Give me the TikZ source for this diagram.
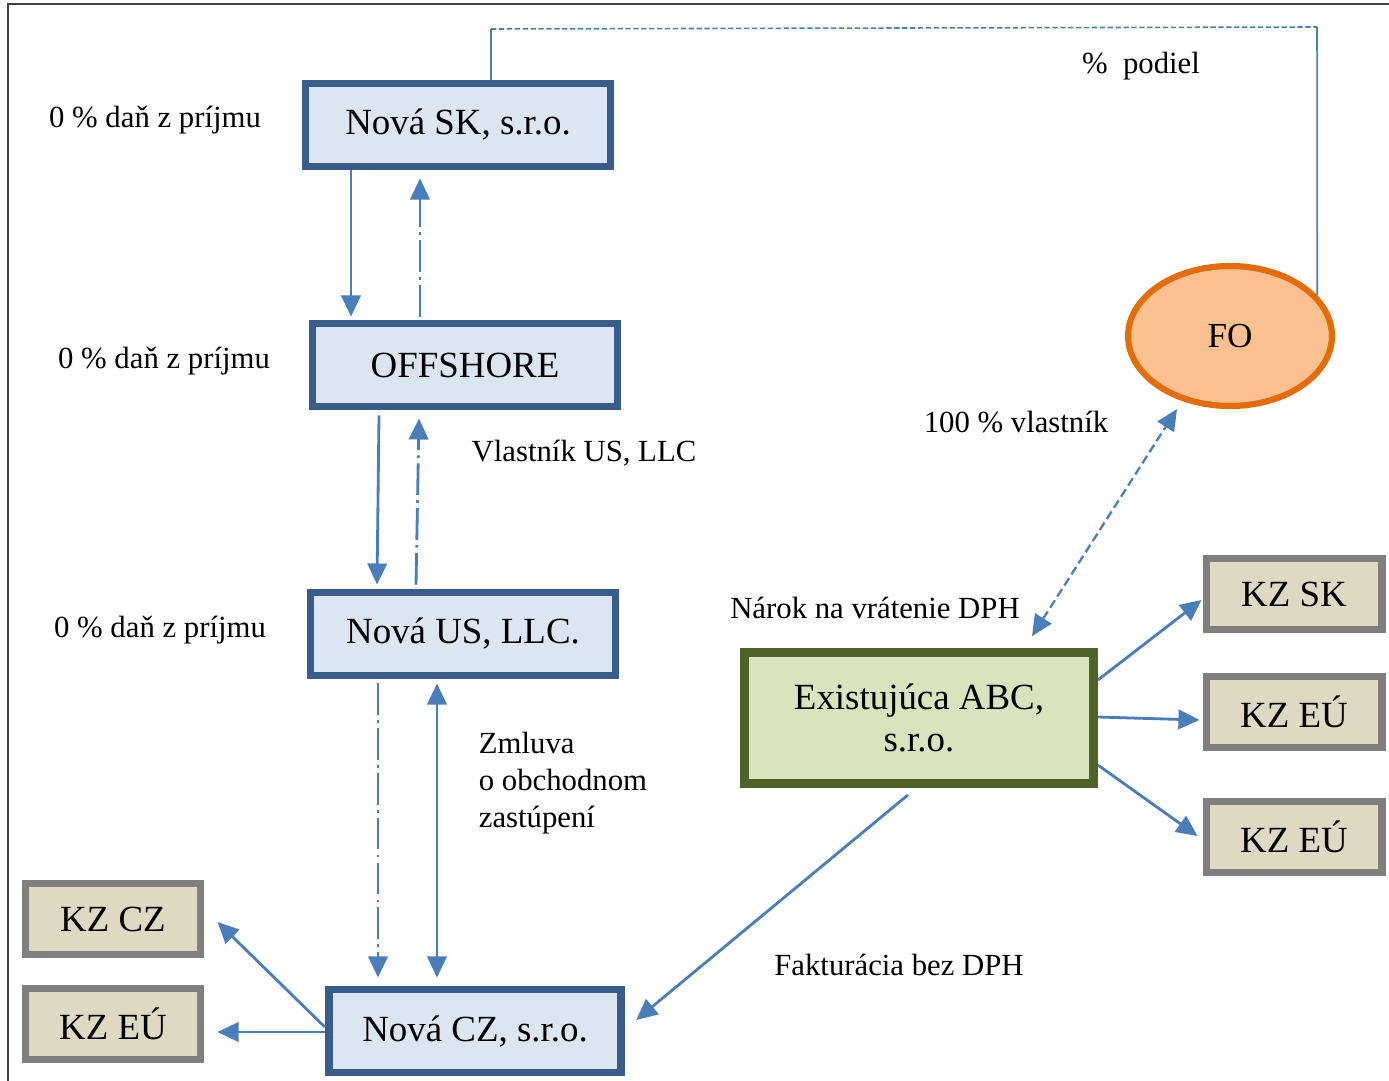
\documentclass[tikz,border=0pt]{standalone}
\usepackage{fontspec}
\setmainfont{Liberation Serif}
\usepackage{tikz}
\usetikzlibrary{arrows.meta}
\usetikzlibrary{calc,shapes.geometric}

\definecolor{entline}{RGB}{56,93,138}
\definecolor{entfill}{RGB}{220,230,242}
\definecolor{abcline}{RGB}{79,98,40}
\definecolor{abcfill}{RGB}{215,228,189}
\definecolor{kzline}{RGB}{127,127,127}
\definecolor{kzfill}{RGB}{221,217,195}
\definecolor{foline}{RGB}{228,108,10}
\definecolor{fofill}{RGB}{250,192,144}
\definecolor{arrowblue}{RGB}{74,126,187}
\definecolor{framegray}{RGB}{64,64,64}

\tikzset{
	ent/.style={draw=entline, fill=entfill, line width=4.5pt, inner sep=0pt,
		minimum width=6.1cm, minimum height=1.66cm, font=\fontsize{21}{24}\selectfont},
	kz/.style={draw=kzline, fill=kzfill, line width=4pt, inner sep=0pt,
		minimum width=3.52cm, minimum height=1.42cm, font=\fontsize{21}{24}\selectfont},
	lbl/.style={font=\fontsize{17.5}{21}\selectfont},
	tip/.tip={Triangle[length=12pt,width=11pt]},
	conn/.style={arrowblue, line width=1.6pt, -tip},
	dashdot/.style={dash pattern=on 18pt off 3pt on 1.5pt off 3pt}
}

\begin{document}
\begin{tikzpicture}[x=0.02cm, y=-0.02cm]
	\useasboundingbox (0,0) rectangle (1389,1081);
	\draw[framegray, line width=1.5pt] (8,1081) -- (8,4) -- (1389,4);

	% spolocnosti
	\node[ent] (sk) at (458,125) {Nová SK, s.r.o.};
	\node[ent] (off) at (465,365) {OFFSHORE};
	\node[ent] (us) at (463,634) {Nová US, LLC.};
	\node[ent, minimum width=5.85cm] (cz) at (475,1031) {Nová CZ, s.r.o.};
	\node[ent, draw=abcline, fill=abcfill, line width=5pt, minimum width=6.98cm,
		minimum height=2.62cm, align=center] (abc) at (919,718) {Existujúca ABC,\\s.r.o.};
	\node[ellipse, draw=foline, fill=fofill, line width=3.5pt, minimum width=4.08cm,
		minimum height=2.8cm, font=\fontsize{20}{24}\selectfont] (fo) at (1230,336) {FO};

	\node[kz] (kzsk) at (1294,594) {KZ SK};
	\node[kz] (kzeu1) at (1294,712) {KZ EÚ};
	\node[kz] (kzeu2) at (1294,837) {KZ EÚ};
	\node[kz] (kzcz) at (113,919) {KZ CZ};
	\node[kz] (kzeu3) at (113,1024) {KZ EÚ};

	% popisy
	\node[lbl] (dan1) at (155,120) {0 \% daň z príjmu};
	\node[lbl] (dan2) at (164,361) {0 \% daň z príjmu};
	\node[lbl] (dan3) at (160,630) {0 \% daň z príjmu};
	\node[lbl] (podiel) at (1141,66) {\%~ podiel};
	\node[lbl] (vlus) at (584,453) {Vlastník US, LLC};
	\node[lbl] (vl100) at (1016,422) {100 \% vlastník};
	\node[lbl] (narok) at (875,608) {Nárok na vrátenie DPH};
	\node[lbl, align=left] (zmluva) at (563,783) {Zmluva\\o obchodnom\\zastúpení};
	\node[lbl] (fakt) at (899,965) {Fakturácia bez DPH};

	% podiel FO na Nova SK
	\coordinate (tl) at (491,29);
	\coordinate (tr) at (1317,27);
	\draw[arrowblue, line width=0.9pt] ($(sk.north)+(33,0)$) -- (tl);
	\draw[arrowblue, line width=0.9pt, dash pattern=on 3pt off 1.5pt] (tl) -- (tr);
	\draw[arrowblue, line width=0.9pt] (tr) -- (fo.25);

	\path[conn]
	($(sk.south)+(-107,0)$) edge ($(off.north)+(-114,-3)$)
	($(off.north)+(-45,-3)$) edge[dashdot] ($(sk.south)+(-38,8)$)
	($(off.south)+(-86,5)$) edge ($(us.north)+(-86,-4)$)
	($(us.north)+(-47,-4)$) edge[dashdot] ($(off.south)+(-46,8)$)
	($(us.south)+(-85,4)$) edge[dashdot] ($(cz.north)+(-97,-8)$)
	($(us.south)+(-26,4)$) edge[tip-tip] ($(cz.north)+(-38,-8)$)
	($(cz.west)+(0,-4)$) edge ($(kzcz.east)+(13,3)$)
	($(cz.west)+(0,1)$) edge ($(kzeu3.east)+(13,8)$)
	($(abc.south)+(-11,7)$) edge ($(cz.east)+(11,-11)$)
	($(abc.east)+(0,-38)$) edge ($(kzsk.west)+(-1,6)$)
	($(abc.east)+(0,-1)$) edge ($(kzeu1.west)+(-3,8)$)
	($(abc.east)+(0,47)$) edge ($(kzeu2.west)+(-5,-1)$);
	\path[conn, line width=1.3pt]
	($(abc.north)+(113,-12)$) edge[tip-tip, dash pattern=on 5pt off 2.5pt] ($(fo.south)+(-53,0)$);
\end{tikzpicture}
\end{document}
